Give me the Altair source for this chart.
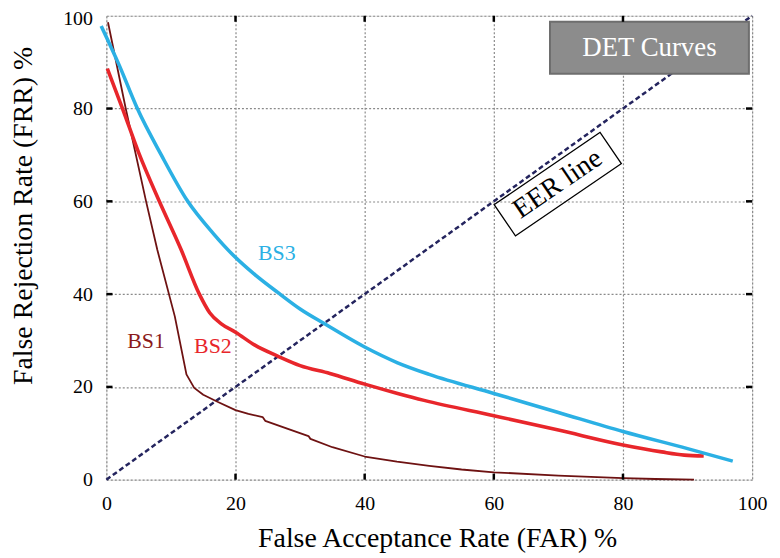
import altair as alt
import pandas as pd

# ---- data ----
bs1_far = [0.25, 3.0, 6.15, 7.9, 10.6, 12.4, 13.6, 15.0, 17.2, 20.0, 22.0, 24.2, 24.6, 28.0, 31.3, 31.6,
           35.0, 40.0, 45.0, 50.0, 55.0, 60.0, 70.0, 80.0, 85.0, 91.0]
bs1_frr = [98.6, 80.0, 60.0, 49.5, 35.2, 22.7, 19.8, 18.3, 16.8, 15.0, 14.2, 13.5, 12.7, 11.0, 9.4, 8.8,
           7.0, 5.0, 3.9, 3.0, 2.2, 1.6, 0.9, 0.35, 0.15, 0.0]

bs2_far = [0.15, 2.5, 5.0, 8.2, 11.6, 14.4, 16.0, 17.8, 20.0, 23.0, 26.6, 30.0, 34.6, 40.0, 45.1, 49.2,
           60.0, 70.0, 80.0, 86.0, 89.5, 92.5]
bs2_frr = [88.6, 80.0, 70.5, 60.0, 49.5, 40.0, 36.0, 33.6, 31.8, 29.0, 26.6, 24.6, 22.9, 20.6, 18.6,
           17.1, 13.8, 10.7, 7.5, 6.0, 5.3, 5.1]

bs3_far = [-0.8, 2.0, 4.8, 8.5, 12.6, 16.6, 19.5, 23.0, 26.7, 30.0, 33.8, 40.0, 45.1, 50.0, 60.0, 70.0,
           80.0, 90.0, 97.0]
bs3_frr = [97.8, 89.3, 80.0, 70.0, 60.0, 53.0, 48.6, 44.2, 40.2, 36.8, 33.6, 28.6, 25.2, 22.7, 18.6,
           14.5, 10.4, 6.7, 4.0]

eer_far = [0, 100]
eer_frr = [0, 100]

tick_values = [20, 40, 60, 80]

series_names = ["BS1", "BS2", "BS3"]
label_far = [6.15, 16.5, 26.4]
label_frr = [29.8, 28.8, 48.9]
series_colors = ["#8b1a1a", "#e8262b", "#2bb0e4"]

FONT = "Liberation Serif"
W, H = 650, 467

xs = alt.Scale(domain=[0, 100], nice=False)
ys = alt.Scale(domain=[0, 100], nice=False)


def curve_df(far, frr):
    return pd.DataFrame({"far": far, "frr": frr, "order": list(range(len(far)))})


x_axis = alt.Axis(values=[0, 20, 40, 60, 80, 100], title="False Acceptance Rate (FAR) %",
                  grid=True, gridDash=[2, 2], gridColor="#8a8a8a", gridWidth=1.2,
                  domain=False, ticks=False, labelFont=FONT, labelFontSize=20, labelColor="black",
                  labelPadding=14, labelFlush=False,
                  titleFont=FONT, titleFontSize=28, titleFontWeight="normal", titleColor="black",
                  titleX=333, titleY=59, titleBaseline="middle", titleAlign="center")
y_axis = alt.Axis(values=[0, 20, 40, 60, 80, 100], title="False Rejection Rate (FRR) %",
                  grid=True, gridDash=[2, 2], gridColor="#8a8a8a", gridWidth=1.2,
                  domain=False, ticks=False, labelFont=FONT, labelFontSize=20, labelColor="black",
                  labelPadding=14, labelFlush=False,
                  labelOffset={"condition": {"test": "datum.value == 100", "value": 3}, "value": 0},
                  titleFont=FONT, titleFontSize=28, titleFontWeight="normal", titleColor="black",
                  titleX=-83, titleY=201, titleAngle=270, titleBaseline="middle", titleAlign="center")

eer = alt.Chart(curve_df(eer_far, eer_frr)).mark_line(
    color="#24245e", strokeWidth=2.5, strokeDash=[5, 3]
).encode(
    x=alt.X("far:Q", scale=xs, axis=x_axis),
    y=alt.Y("frr:Q", scale=ys, axis=y_axis),
    order="order:Q",
)


def curve(far, frr, color, width, interp):
    return alt.Chart(curve_df(far, frr)).mark_line(
        color=color, strokeWidth=width, clip=False, strokeJoin="round", interpolate=interp
    ).encode(x=alt.X("far:Q", scale=xs), y=alt.Y("frr:Q", scale=ys), order="order:Q")


c1 = curve(bs1_far, bs1_frr, "#6e1212", 1.8, "linear")
c2 = curve(bs2_far, bs2_frr, "#e8262b", 3.6, "monotone")
c3 = curve(bs3_far, bs3_frr, "#2bb0e4", 3.6, "monotone")

labels = alt.Chart(pd.DataFrame({"name": series_names, "far": label_far, "frr": label_frr,
                                 "color": series_colors})).mark_text(
    font=FONT, fontSize=22, align="center", baseline="middle"
).encode(x=alt.X("far:Q", scale=xs), y=alt.Y("frr:Q", scale=ys), text="name:N",
         color=alt.Color("color:N", scale=None))

# DET Curves box
det_df = pd.DataFrame({"x": [68.7], "x2": [99.5], "y": [87.5], "y2": [98.7],
                       "cx": [84.1], "cy": [93.1], "t": ["DET Curves"]})
det_box = alt.Chart(det_df).mark_rect(fill="#8c8c8c", stroke="#6e6e6e", strokeWidth=2).encode(
    x=alt.X("x:Q", scale=xs), x2="x2:Q", y=alt.Y("y:Q", scale=ys), y2="y2:Q")
det_text = alt.Chart(det_df).mark_text(font=FONT, fontSize=27, color="white",
                                       align="center", baseline="middle").encode(
    x=alt.X("cx:Q", scale=xs), y=alt.Y("cy:Q", scale=ys), text="t:N")

# EER line label (rotated box + text)
eer_df = pd.DataFrame({"x": [69.9], "y": [63.7], "t": ["EER line"]})
eer_box = alt.Chart(eer_df).mark_point(
    shape="M -1 -0.295 L 1 -0.295 L 1 0.295 L -1 0.295 Z", size=16641, angle=325.7,
    filled=False, stroke="black", strokeWidth=1.3, opacity=1
).encode(x=alt.X("x:Q", scale=xs), y=alt.Y("y:Q", scale=ys))
eer_text = alt.Chart(eer_df).mark_text(font=FONT, fontSize=28, color="black", angle=325.7,
                                       align="center", baseline="middle").encode(
    x=alt.X("x:Q", scale=xs), y=alt.Y("y:Q", scale=ys), text="t:N")

# inward tick marks on all four sides
tk = pd.DataFrame({"v": tick_values})
tick_style = dict(color="black", strokeWidth=2.5)
t_bottom = alt.Chart(tk).mark_rule(**tick_style).encode(
    x=alt.X("v:Q", scale=xs), y=alt.datum(0, scale=ys), y2=alt.datum(1.3))
t_top = alt.Chart(tk).mark_rule(**tick_style).encode(
    x=alt.X("v:Q", scale=xs), y=alt.datum(100, scale=ys), y2=alt.datum(98.7))
t_left = alt.Chart(tk).mark_rule(**tick_style).encode(
    y=alt.Y("v:Q", scale=ys), x=alt.datum(0, scale=xs), x2=alt.datum(0.95))
t_right = alt.Chart(tk).mark_rule(**tick_style).encode(
    y=alt.Y("v:Q", scale=ys), x=alt.datum(100, scale=xs), x2=alt.datum(99.05))

chart = alt.layer(
    eer, c1, c2, c3, labels, det_box, det_text, eer_box, eer_text,
    t_bottom, t_top, t_left, t_right
).properties(
    width=W, height=H,
    autosize=alt.AutoSizeParams(type="none"),
    padding={"left": 99, "top": 6, "right": 20, "bottom": 76},
).configure_view(
    stroke="black", strokeWidth=3
).configure(background="white")

chart.save("out.html", embed_options={"renderer": "svg", "actions": False})
